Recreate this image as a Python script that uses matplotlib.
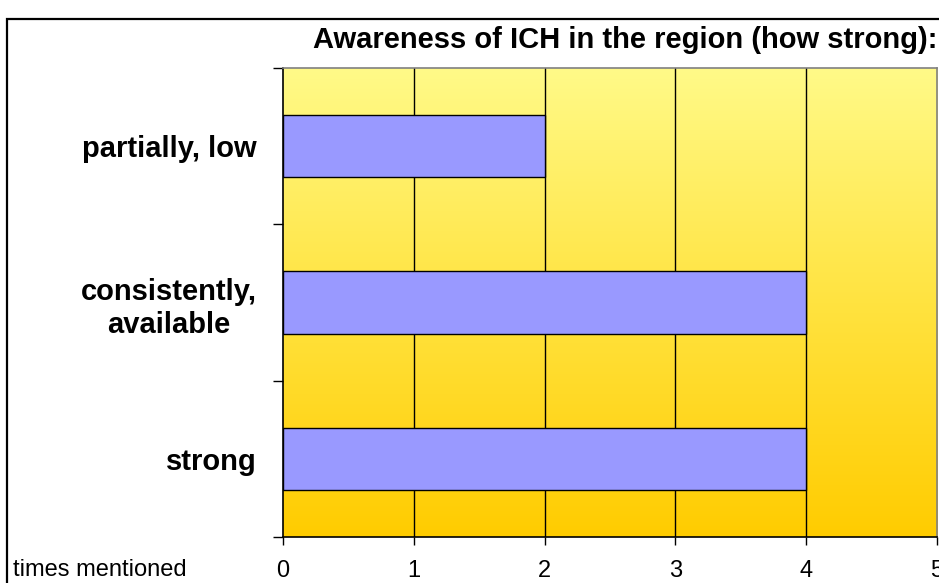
import numpy as np
import matplotlib
matplotlib.use("Agg")
import matplotlib.pyplot as plt
from matplotlib.colors import LinearSegmentedColormap
from matplotlib.patches import Rectangle

categories = ["strong", "consistently,\navailable", "partially, low"]
values = [4, 4, 2]
xticks = [0, 1, 2, 3, 4, 5]
title = "Awareness of ICH in the region (how strong):"
xlabel = "times mentioned"

plt.rcParams['font.family'] = ['Liberation Sans', 'DejaVu Sans']

fig = plt.figure(figsize=(9.39, 5.83), dpi=100)
ax = fig.add_axes([283/939, 1-537/583, (937-283)/939, (537-68)/583])

# gradient background
cmap = LinearSegmentedColormap.from_list("g", ["#FFCC00", "#FFE340", "#FFFA88"])
grad = np.linspace(0, 1, 256).reshape(-1, 1)
ax.imshow(grad, cmap=cmap, aspect="auto", extent=[0, 5, -0.5, 2.5],
          origin="lower", zorder=0)

y = np.arange(len(categories))
ax.barh(y, values, height=0.4, color="#9999FF", edgecolor="black",
        linewidth=1.0, zorder=3)

ax.set_xlim(0, 5)
ax.set_ylim(-0.5, 2.5)
for xv in xticks[1:-1]:
    ax.axvline(xv, color="black", linewidth=1.0, zorder=2)

ax.set_xticks(xticks)
ax.set_xticklabels([str(v) for v in xticks], fontsize=17)
ax.tick_params(axis="x", length=6, width=1, pad=10.5, direction="out")

ax.set_yticks(y)
ax.set_yticklabels(categories, fontsize=21, fontweight="bold",
                   multialignment="center", linespacing=1.25)
ax.tick_params(axis="y", which="major", length=0, pad=19)
ax.set_yticks([-0.5, 0.5, 1.5, 2.5], minor=True)
ax.tick_params(axis="y", which="minor", length=7, width=1, direction="out")

for s in ["top", "right"]:
    ax.spines[s].set_color("#808080")
    ax.spines[s].set_linewidth(1.2)
for s in ["left", "bottom"]:
    ax.spines[s].set_color("black")
    ax.spines[s].set_linewidth(1.2)

fig.text(937/939, 1-40/583, title, ha="right", va="center",
         fontsize=21, fontweight="bold")
fig.text(13/939, 1-576/583, xlabel, ha="left", va="baseline", fontsize=17)

fig.patches.append(Rectangle((7/939, -0.1), 1.2, 1.1 - 19/583,
                             transform=fig.transFigure, fill=False,
                             edgecolor="black", linewidth=1.6))

fig.savefig("out.png", dpi=100)
